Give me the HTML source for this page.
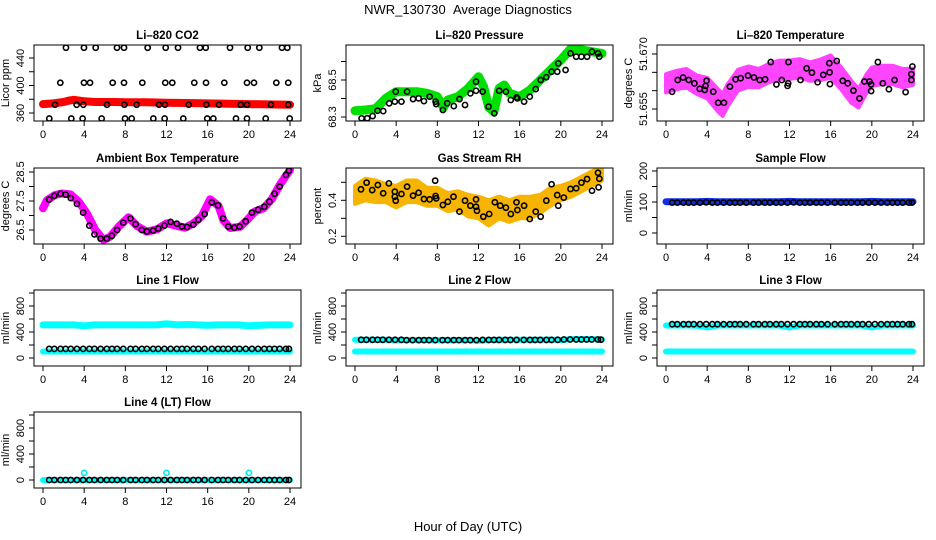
<!DOCTYPE html>
<html><head><meta charset="utf-8"><style>
body{margin:0;background:#fff}
svg{display:block;font-family:"Liberation Sans",sans-serif}
</style></head><body>
<svg id="c" width="936" height="540" xmlns="http://www.w3.org/2000/svg">
<text x="468" y="14" text-anchor="middle" font-size="13">NWR_130730&#160;&#160;Average Diagnostics</text>
<text x="468" y="531" text-anchor="middle" font-size="13">Hour of Day (UTC)</text>
</svg>
<script>
// ---- data ----
const blackHours=[0.6,1.1,1.7,2.2,2.7,3.3,3.9,4.5,5.0,5.6,6.2,6.7,7.2,7.8,8.5,9.0,9.6,10.1,10.7,11.2,11.8,12.4,13.0,13.5,14.0,14.6,15.1,15.7,16.4,17.0,17.5,18.0,18.6,19.1,19.7,20.3,20.9,21.5,22.0,22.5,23.0,23.6,23.9];
const hourGrid=[0,1,2,3,4,5,6,7,8,9,10,11,12,13,14,15,16,17,18,19,20,21,22,23,24];
// CO2
const co2TraceH=[0,1,2,2.5,3,3.5,4,5,6,7,8,10,12,14,16,18,20,22,24];
const co2Trace=[373,374,376,378,379,378,377,376,376,376,375.5,375.5,375,374.5,374,373.5,373,372.5,372];
const co2BlackH=[2.23,3.98,5.12,7.19,7.87,10.17,11.92,13.12,15.25,15.81,18.17,19.89,21.02,23.22,23.74,1.68,3.98,4.57,6.77,7.87,9.65,11.88,12.56,14.7,15.84,17.62,19.82,20.5,22.67,23.83,1.17,3.27,3.92,6.22,7.9,9.1,11.27,11.85,14.16,15.87,17.1,19.21,19.82,22.15,23.83,0.61,2.75,3.85,5.7,7.97,8.62,10.72,11.82,13.63,15.96,16.55,18.75,19.82,21.64,23.97];
const co2Black=[455,455,455,455,455,455,455,455,455,455,455,455,455,455,455,404,404,404,404,404,404,404,404,404,404,404,404,404,404,404,372,372,372,372,372,372,372,372,372,372,372,372,372,372,372,352,352,352,352,352,352,352,352,352,352,352,352,352,352,352];
// Pressure
const presTraceH=[0,1,2,3,4,5,6,7,8,8.6,9,10,11,12,12.5,13,13.5,14,14.5,15,16,17,18,19,20,21,22,23,24];
const presTrace=[68.334,68.338,68.345,68.401,68.437,68.437,68.437,68.428,68.41,68.352,68.392,68.41,68.455,68.518,68.464,68.352,68.329,68.455,68.473,68.428,68.41,68.446,68.5,68.554,68.608,68.671,68.662,68.653,68.644];
const presBlackH=[0.64,1.19,1.71,2.19,2.74,3.32,3.87,3.96,4.51,5.06,5.64,6.18,6.7,7.25,7.83,7.89,8.54,8.96,9.6,10.15,10.69,11.21,11.76,11.76,12.4,12.98,13.53,14.01,14.66,15.14,15.69,15.78,16.43,16.98,17.56,18.04,18.59,19.1,19.65,19.75,20.46,20.94,21.49,22.0,22.55,23.03,23.61,23.74];
const presBlack=[68.293,68.293,68.305,68.334,68.332,68.374,68.383,68.437,68.383,68.437,68.397,68.401,68.386,68.41,68.383,68.37,68.338,68.374,68.359,68.397,68.365,68.428,68.442,68.491,68.437,68.356,68.32,68.442,68.437,68.392,68.406,68.401,68.383,68.41,68.451,68.5,68.515,68.545,68.545,68.59,68.554,68.644,68.626,68.626,68.626,68.653,68.644,68.626];
// Li-820 temperature
const tempBandH=[0,1,2,3,4,5,5.5,6,7,8,9,10,11,12,13,14,15,16,17,18,18.7,19.5,20,21,22,23,24];
const tempBand=[51.662,51.6629,51.6634,51.6616,51.6607,51.6575,51.6561,51.6588,51.6629,51.6638,51.6634,51.6648,51.6657,51.6657,51.6661,51.6652,51.6657,51.6666,51.6634,51.6597,51.6579,51.662,51.6638,51.6643,51.6643,51.6634,51.6638];
const tempSpread=[0.0025,0.0025,0.0025,0.0025,0.0028,0.003,0.003,0.003,0.0028,0.0028,0.0025,0.0025,0.0025,0.0025,0.0025,0.0025,0.0028,0.003,0.003,0.003,0.0025,0.0025,0.0025,0.0025,0.0025,0.0025,0.0022];
const tempBlackH=[0.59,1.14,1.66,2.21,2.76,3.28,3.77,3.84,3.94,4.59,5.07,5.63,6.21,6.76,7.25,7.97,8.55,9.11,9.63,10.18,10.73,11.25,11.81,11.87,11.9,13.07,13.66,14.18,14.73,15.28,15.87,15.93,15.9,16.59,17.17,17.66,18.21,18.8,19.28,19.77,19.93,19.93,20.59,21.07,21.66,22.21,23.28,23.84,23.84,23.94];
const tempBlack=[51.6597,51.6629,51.6636,51.6629,51.662,51.6605,51.6602,51.6613,51.6627,51.6597,51.6567,51.6567,51.6611,51.6631,51.6634,51.6641,51.6636,51.6629,51.6631,51.6678,51.6617,51.6629,51.6613,51.662,51.6678,51.6629,51.6661,51.6649,51.6623,51.6643,51.6675,51.6618,51.665,51.6681,51.6627,51.662,51.66,51.6579,51.6625,51.6625,51.6617,51.6599,51.6678,51.662,51.6604,51.6629,51.6596,51.6629,51.6645,51.6666];
// Ambient box temperature
const ambTraceH=[0,0.39,1.2,1.84,2.65,3.46,4.27,5.08,5.89,6.53,7.34,8.31,9.12,10.09,11.06,12.03,13.0,13.81,14.62,15.43,16.24,17.05,17.53,18.18,19.15,19.8,20.61,21.42,22.22,23.03,24];
const ambTrace=[27.25,27.53,27.71,27.76,27.73,27.48,27.07,26.5,26.16,26.27,26.61,26.94,26.64,26.44,26.52,26.73,26.64,26.58,26.73,26.98,27.56,27.33,26.83,26.57,26.61,26.83,27.14,27.25,27.56,28.07,28.57];
const ambBlack=[27.55,27.68,27.75,27.72,27.6,27.4,27.1,26.65,26.35,26.2,26.2,26.3,26.5,26.75,26.9,26.7,26.5,26.45,26.48,26.55,26.65,26.78,26.72,26.62,26.6,26.68,26.85,27.05,27.45,27.35,26.9,26.62,26.58,26.62,26.8,27.1,27.2,27.3,27.48,27.75,28.0,28.4,28.55];
// Gas stream RH
const rhBandH=hourGrid;
const rhBand=[0.43,0.46,0.45,0.44,0.42,0.45,0.45,0.42,0.42,0.39,0.40,0.37,0.36,0.33,0.36,0.34,0.36,0.36,0.38,0.42,0.44,0.46,0.49,0.52,0.55];
const rhSpread=[0.05,0.06,0.06,0.05,0.06,0.06,0.06,0.05,0.05,0.05,0.05,0.06,0.06,0.07,0.06,0.06,0.06,0.06,0.05,0.05,0.04,0.04,0.04,0.04,0.04];
const rhBlackH=[0.58,1.13,1.67,2.22,2.74,3.29,3.87,3.87,3.96,4.51,5.06,5.64,6.18,6.7,7.25,7.79,7.83,7.89,8.54,9.02,9.57,10.15,10.69,11.21,11.76,11.76,11.85,12.47,13.04,13.59,14.11,14.66,15.14,15.69,15.78,16.43,16.98,17.56,18.04,18.59,19.1,19.65,19.75,20.29,20.94,21.49,22.0,22.55,23.03,23.61,23.67,23.74];
const rhBlack=[0.461,0.498,0.457,0.485,0.439,0.494,0.448,0.42,0.398,0.435,0.476,0.426,0.442,0.407,0.405,0.509,0.424,0.411,0.374,0.392,0.42,0.337,0.398,0.37,0.405,0.364,0.342,0.309,0.324,0.389,0.37,0.359,0.324,0.389,0.346,0.37,0.296,0.337,0.309,0.398,0.489,0.429,0.37,0.415,0.463,0.467,0.498,0.518,0.453,0.553,0.472,0.52];
// Flows
const sampleFlowTrace=[101,101,101,101,102,101,101,101,101,101,101,101,102,101,101,101,101,101,101,101,102,101,101,101,101];
const sampleFlowBlack=[98,98,98,98,98,98,99,98,98,98,98,98,98,98,98,98,98,98,98,98,98,99,98,98,98,98,98,98,98,98,98,98,98,98,98,98,98,98,98,98,98,98,98];
const line1Hi=[510,510,510,510,495,510,510,510,510,510,510,510,525,510,515,510,505,510,510,510,495,505,510,510,510];
const line1Lo=[100,100,100,100,100,100,100,100,100,100,100,100,100,100,100,100,100,100,100,100,100,100,100,100,100];
const line1Black=[140,140,140,140,140,140,140,140,140,140,140,140,140,140,140,140,140,140,140,140,140,140,140,140,140,140,140,140,140,140,140,140,140,140,140,140,140,140,140,140,140,140,140];
const line2Hi=[280,280,280,280,270,275,275,275,275,275,275,275,265,275,280,280,280,280,280,285,275,290,290,290,285];
const line2Lo=[100,100,100,100,100,100,100,100,100,100,100,100,100,100,100,100,100,100,100,100,100,100,100,100,100];
const line2Black=[280,280,280,280,280,280,280,280,275,275,275,275,275,275,275,275,275,275,275,275,275,278,278,278,278,278,278,278,278,278,278,278,278,278,280,285,285,285,285,285,285,285,282];
const line3Hi=[500,500,500,495,470,500,500,500,500,500,500,500,470,500,500,500,500,500,500,500,470,500,500,500,500];
const line3Lo=[100,100,100,100,100,100,100,100,100,100,100,100,100,100,100,100,100,100,100,100,100,100,100,100,100];
const line3Black=[520,520,520,520,520,520,520,520,520,520,520,520,520,520,520,520,520,520,520,520,520,520,520,520,520,520,520,520,520,520,520,520,520,520,520,520,520,520,520,520,520,520,520];
const line4Trace=[0,0,0,0,0,0,0,0,0,0,0,0,0,0,0,0,0,0,0,0,0,0,0,0,0];
const line4SpikeH=[4,12,20];
const line4Spike=[110,110,110];
const line4Black=[0,0,0,0,0,0,0,0,0,0,0,0,0,0,0,0,0,0,0,0,0,0,0,0,0,0,0,0,0,0,0,0,0,0,0,0,0,0,0,0,0,0,0];
const xTicks=[0,4,8,12,16,20,24];

// ---- drawing ----
const svg=document.getElementById('c');
const NS='http://www.w3.org/2000/svg';
function mk(tag,attrs,parent){const e=document.createElementNS(NS,tag);for(const k in attrs)e.setAttribute(k,attrs[k]);(parent||svg).appendChild(e);return e;}
const colLeft=[34,346,657],rowTop=[45,168,290,412],BW=267,BH=76;

function panel(col,row,name,title,ylab,yA,yB,yTicks,yLabels){
  const L=colLeft[col],T=rowTop[row];
  const g=mk('g',{});
  
  
  const xs=h=>L+9+h*247/24;
  const ys=v=>yA[1]+(v-yA[0])*(yB[1]-yA[1])/(yB[0]-yA[0]);
  const clip='clip'+col+row;
  const cp=mk('clipPath',{id:clip},g);mk('rect',{x:L,y:T,width:BW,height:BH},cp);
  const plot=mk('g',{'clip-path':'url(#'+clip+')'},g);
  
  
  const t=mk('text',{x:L+BW/2,y:T-6,'text-anchor':'middle','font-size':11.5,'font-weight':'bold'},g);
  t.textContent=title;
  
  
  const box=mk('rect',{x:L,y:T,width:BW,height:BH,fill:'none',stroke:'#000','stroke-width':1},g);
  
  
  xTicks.forEach(h=>{
    mk('line',{x1:xs(h),x2:xs(h),y1:T+BH,y2:T+BH+5,stroke:'#000'},g);
    const tx=mk('text',{x:xs(h),y:T+BH+17,'text-anchor':'middle','font-size':11},g);
    tx.textContent=h;
    
    
  });
  yTicks.forEach(v=>{mk('line',{x1:L-5,x2:L,y1:ys(v),y2:ys(v),stroke:'#000'},g);});
  yLabels.forEach(v=>{
    const tx=mk('text',{x:L-10,y:ys(v),'text-anchor':'middle','font-size':11,transform:'rotate(-90 '+(L-10)+' '+ys(v)+')'},g);
    tx.textContent=v;
    
    
  });
  const yl=mk('text',{x:L-25,y:T+BH/2,'text-anchor':'middle','font-size':11,transform:'rotate(-90 '+(L-25)+' '+(T+BH/2)+')'},g);
  yl.textContent=ylab;
  
  
  return {plot,xs,ys};
}
function trace(p,H,V,color,w,name){
  const pts=H.map((h,i)=>p.xs(h).toFixed(1)+','+p.ys(V[i]).toFixed(1)).join(' ');
  const e=mk('polyline',{points:pts,fill:'none',stroke:color,'stroke-width':w,'stroke-linejoin':'round','stroke-linecap':'round'},p.plot);
  
  
}
function band(p,H,V,S,color,name){
  const up=H.map((h,i)=>p.xs(h).toFixed(1)+','+p.ys(V[i]+S[i]).toFixed(1));
  const dn=H.map((h,i)=>p.xs(h).toFixed(1)+','+p.ys(V[i]-S[i]).toFixed(1)).reverse();
  const e=mk('polygon',{points:up.concat(dn).join(' '),fill:color,stroke:color,'stroke-width':4,'stroke-linejoin':'round'},p.plot);
  
  
}
function pts(p,H,V,color,name,r){
  H.forEach((h,i)=>{
    const c=mk('circle',{cx:p.xs(h),cy:p.ys(V[i]),r:r||2.6,fill:'none',stroke:color,'stroke-width':1.6},p.plot);
    
    
  });
}
const flowTicks=[0,200,400,600,800,1000],flowLabels=[0,400,800];

let p=panel(0,0,'co2','Li\u2013820 CO2','Licor ppm',[360,113],[440,58],[360,380,400,420,440],[360,400,440]);
trace(p,co2TraceH,co2Trace,'#ff0000',8,'co2-trace');
pts(p,co2BlackH,co2Black,'#000','co2-point');

p=panel(1,0,'pressure','Li\u2013820 Pressure','kPa',[68.3,117],[68.5,80],[68.3,68.4,68.5,68.6],[68.3,68.5]);
trace(p,presTraceH,presTrace,'#00e000',9,'pressure-trace');
pts(p,presBlackH,presBlack,'#000','pressure-point');

p=panel(2,0,'li820-temp','Li\u2013820 Temperature','degrees C',[51.655,109],[51.67,54],[51.655,51.66,51.665,51.67],['51.655','51.670']);
band(p,tempBandH,tempBand,tempSpread,'#ff44ff','temp-band');
pts(p,tempBlackH,tempBlack,'#000','temp-point');

p=panel(0,1,'ambient','Ambient Box Temperature','degrees C',[26.5,230],[28.5,172],[26.5,27,27.5,28,28.5],['26.5','27.5','28.5']);
trace(p,ambTraceH,ambTrace,'#ff00ff',8,'ambient-trace');
pts(p,blackHours,ambBlack,'#000','ambient-point');

p=panel(1,1,'rh','Gas Stream RH','percent',[0.2,236.3],[0.4,200.3],[0.2,0.3,0.4,0.5],[0.2,0.4]);
band(p,rhBandH,rhBand,rhSpread,'#f7b400','rh-band');
pts(p,rhBlackH,rhBlack,'#000','rh-point');

p=panel(2,1,'sample-flow','Sample Flow','ml/min',[0,233],[100,202],[0,50,100,150,200],[0,100,200]);
trace(p,hourGrid,sampleFlowTrace,'#1030e0',7,'sample-flow-trace');
pts(p,blackHours,sampleFlowBlack,'#000','sample-flow-point');

p=panel(0,2,'line1','Line 1 Flow','ml/min',[0,358],[400,332],flowTicks,flowLabels);
trace(p,hourGrid,line1Hi,'#00ffff',7,'line1-high-trace');
trace(p,hourGrid,line1Lo,'#00ffff',6,'line1-low-trace');
pts(p,blackHours,line1Black,'#000','line1-point');

p=panel(1,2,'line2','Line 2 Flow','ml/min',[0,358],[400,332],flowTicks,flowLabels);
trace(p,hourGrid,line2Hi,'#00ffff',6,'line2-high-trace');
trace(p,hourGrid,line2Lo,'#00ffff',6,'line2-low-trace');
pts(p,blackHours,line2Black,'#000','line2-point');

p=panel(2,2,'line3','Line 3 Flow','ml/min',[0,358],[400,332],flowTicks,flowLabels);
trace(p,hourGrid,line3Hi,'#00ffff',6,'line3-high-trace');
trace(p,hourGrid,line3Lo,'#00ffff',6,'line3-low-trace');
pts(p,blackHours,line3Black,'#000','line3-point');

p=panel(0,3,'line4','Line 4 (LT) Flow','ml/min',[0,480],[400,454],flowTicks,flowLabels);
trace(p,hourGrid,line4Trace,'#00ffff',6,'line4-trace');
pts(p,line4SpikeH,line4Spike,'#00e8e8','line4-spike');
pts(p,blackHours,line4Black,'#000','line4-point');
</script>
</body></html>
